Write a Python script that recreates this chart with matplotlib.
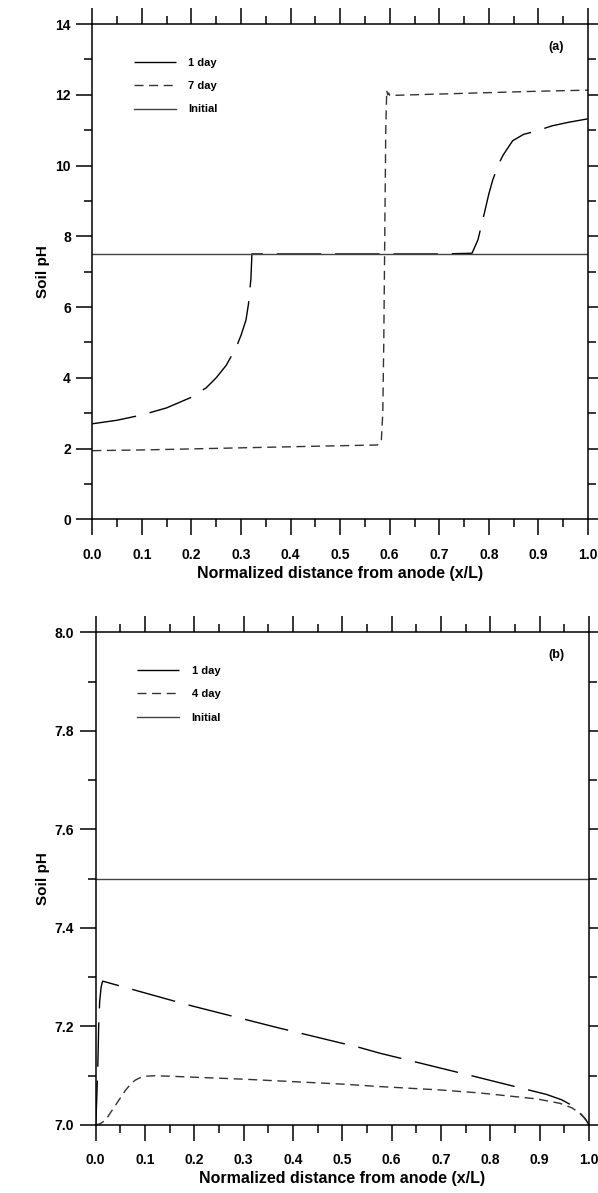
import matplotlib
matplotlib.use("Agg")
import matplotlib.pyplot as plt
from matplotlib.ticker import MultipleLocator, FormatStrFormatter

plt.rcParams['font.family'] = ['Liberation Sans', 'DejaVu Sans']
plt.rcParams['font.weight'] = 'bold'
plt.rcParams['lines.scale_dashes'] = False

# ---------------- Panel (a) data ----------------
a_day1_x = [0.0, 0.05, 0.1, 0.15, 0.2, 0.23, 0.25, 0.27, 0.29, 0.30, 0.31, 0.315, 0.32, 0.322,
            0.4, 0.5, 0.6, 0.7, 0.766, 0.778, 0.79, 0.80, 0.808, 0.82, 0.829, 0.848, 0.87,
            0.897, 0.927, 0.96, 1.0]
a_day1_y = [2.70, 2.80, 2.95, 3.15, 3.45, 3.72, 4.00, 4.35, 4.85, 5.20, 5.63, 6.08, 6.80, 7.50,
            7.50, 7.50, 7.50, 7.50, 7.52, 7.90, 8.60, 9.20, 9.60, 10.05, 10.30, 10.70, 10.88,
            10.98, 11.12, 11.22, 11.32]

a_day7_x = [0.0, 0.1, 0.2, 0.3, 0.4, 0.5, 0.575, 0.583, 0.586, 0.588, 0.590, 0.592, 0.594,
            0.596, 0.598, 0.60, 0.7, 0.8, 0.9, 1.0]
a_day7_y = [1.94, 1.96, 1.99, 2.02, 2.05, 2.08, 2.10, 2.20, 3.0, 5.0, 8.0, 11.0, 12.12,
            12.0, 12.05, 11.98, 12.02, 12.06, 12.10, 12.13]

a_init_x = [0.0, 1.0]
a_init_y = [7.5, 7.5]

# ---------------- Panel (b) data ----------------
b_day1_x = [0.0, 0.002, 0.004, 0.005, 0.006, 0.008, 0.011, 0.014, 0.186, 0.367, 0.536, 0.575,
            0.762, 0.914, 0.945, 0.965, 0.982, 0.993, 1.0]
b_day1_y = [7.0, 7.05, 7.11, 7.15, 7.20, 7.25, 7.28, 7.292, 7.244, 7.198, 7.157, 7.146,
            7.100, 7.062, 7.051, 7.040, 7.024, 7.012, 7.0]

b_day4_x = [0.0, 0.01, 0.02, 0.03, 0.04, 0.05, 0.06, 0.07, 0.08, 0.09, 0.10, 0.12, 0.15,
            0.2, 0.3, 0.4, 0.5, 0.576, 0.7, 0.779, 0.894, 0.941, 0.965, 0.98, 0.99, 1.0]
b_day4_y = [7.0, 7.003, 7.01, 7.025, 7.04, 7.055, 7.07, 7.082, 7.091, 7.096, 7.099, 7.10, 7.099,
            7.097, 7.093, 7.088, 7.083, 7.078, 7.071, 7.065, 7.053, 7.044, 7.035, 7.025, 7.015, 7.0]

b_init_x = [0.0, 1.0]
b_init_y = [7.5, 7.5]

labels_a = ['1 day', '7 day', 'Initial']
labels_b = ['1 day', '4 day', 'Initial']

DPI = 100
fig = plt.figure(figsize=(5.98, 11.93), dpi=DPI)

W, H = 598.0, 1193.0
def axes_rect(l, t, r, b):
    return [l / W, 1 - b / H, (r - l) / W, (b - t) / H]

ax1 = fig.add_axes(axes_rect(92.3, 24.0, 588.0, 519.3))
ax2 = fig.add_axes(axes_rect(95.7, 632.3, 589.0, 1125.0))

long_dash = (0, (32, 10))
short_dash = (0, (6.5, 4))

def style(ax, ymin, ymax, ymaj, ymin_step, yfmt, letter):
    ax.set_xlim(0, 1)
    ax.set_ylim(ymin, ymax)
    ax.xaxis.set_major_locator(MultipleLocator(0.1))
    ax.xaxis.set_minor_locator(MultipleLocator(0.05))
    ax.yaxis.set_major_locator(MultipleLocator(ymaj))
    ax.yaxis.set_minor_locator(MultipleLocator(ymin_step))
    ax.xaxis.set_major_formatter(FormatStrFormatter('%.1f'))
    ax.yaxis.set_major_formatter(FormatStrFormatter(yfmt))
    for s in ax.spines.values():
        s.set_linewidth(1.1)
    ax.tick_params(which='both', direction='out', top=True, right=True,
                   labeltop=False, labelright=False, width=1.1)
    ax.tick_params(which='major', length=11.5)
    ax.tick_params(which='minor', length=5.8)
    ax.tick_params(axis='x', which='major', pad=9, labelsize=10)
    ax.tick_params(axis='y', which='major', pad=4, labelsize=10)
    for lab in ax.get_xticklabels() + ax.get_yticklabels():
        lab.set_fontweight('bold')
    ax.set_xlabel('Normalized distance from anode (x/L)', fontsize=11.5, fontweight='bold')
    ax.set_ylabel('Soil pH', fontsize=11, fontweight='bold')
    ax.text(0.935, 0.953, letter, transform=ax.transAxes, fontsize=9, fontweight='bold',
            ha='center', va='center')

# Panel (a)
l1, = ax1.plot(a_day1_x, a_day1_y, color='black', lw=1.0, linestyle=long_dash)
l2, = ax1.plot(a_day7_x, a_day7_y, color='#333333', lw=1.0, linestyle=short_dash)
l3, = ax1.plot(a_init_x, a_init_y, color='#444444', lw=1.0, linestyle='-')
style(ax1, 0, 14, 2, 1, '%d', '(a)')
ax1.xaxis.set_label_coords(0.5, -0.094)
ax1.yaxis.set_label_coords(-0.085, 0.5)

# Panel (b)
m1, = ax2.plot(b_day1_x, b_day1_y, color='black', lw=1.0, linestyle=long_dash)
m2, = ax2.plot(b_day4_x, b_day4_y, color='#333333', lw=1.0, linestyle=short_dash)
m3, = ax2.plot(b_init_x, b_init_y, color='#444444', lw=1.0, linestyle='-')
style(ax2, 7.0, 8.0, 0.2, 0.1, '%.1f', '(b)')
ax2.xaxis.set_label_coords(0.5, -0.093)
ax2.yaxis.set_label_coords(-0.093, 0.5)

for ax, handles, labels in [(ax1, [l1, l2, l3], labels_a), (ax2, [m1, m2, m3], labels_b)]:
    ax.legend(handles, labels, loc='upper left', bbox_to_anchor=(0.064, 0.952),
              frameon=False, handlelength=3.8, handletextpad=1.1, labelspacing=1.2,
              prop={'weight': 'bold', 'size': 8})

fig.savefig('out.png', dpi=DPI)
